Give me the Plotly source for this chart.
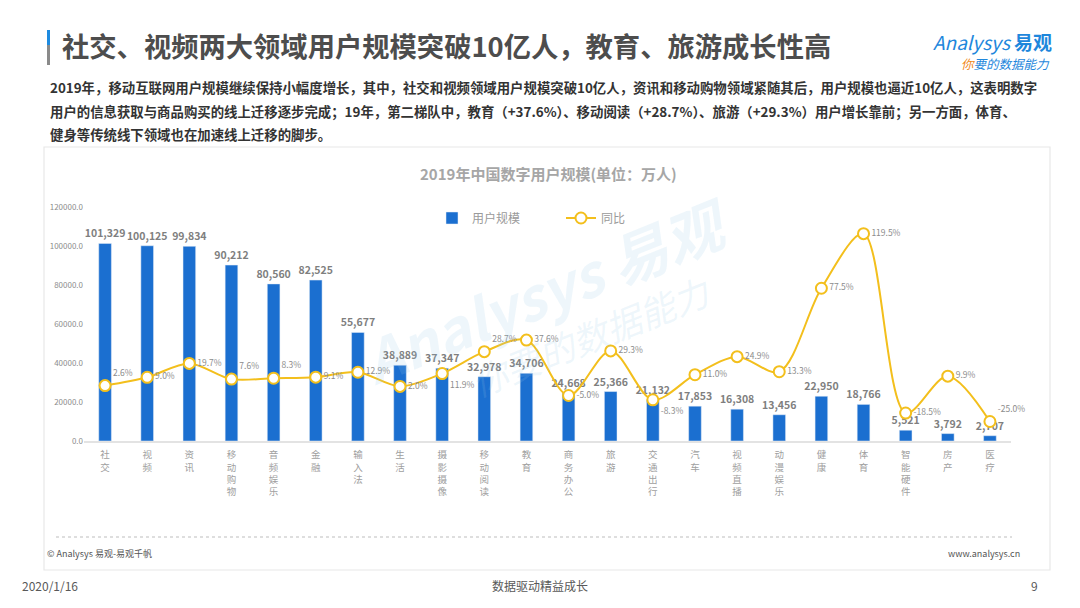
import plotly.graph_objects as go

W, H = 1080, 608

categories = ['社交', '视频', '资讯', '移动购物', '音频娱乐', '金融', '输入法', '生活',
              '摄影摄像', '移动阅读', '教育', '商务办公', '旅游', '交通出行', '汽车',
              '视频直播', '动漫娱乐', '健康', '体育', '智能硬件', '房产', '医疗']
users = [101329, 100125, 99834, 90212, 80560, 82525, 55677, 38889,
         37347, 32978, 34706, 24668, 25366, 21132, 17853,
         16308, 13456, 22950, 18766, 5521, 3792, 2707]
growth = [2.6, 9.0, 19.7, 7.6, 8.3, 9.1, 12.9, 2.0,
          11.9, 28.7, 37.6, -5.0, 29.3, -8.3, 11.0,
          24.9, 13.3, 77.5, 119.5, -18.5, 9.9, -25.0]
y_ticks = [0, 20000, 40000, 60000, 80000, 100000, 120000]

FONT = 'Noto Sans CJK SC'
BLUE = '#1B6FD0'
GOLD = '#F3BF1C'


def fx(x):
    return x / W


def fy(y):
    return 1 - y / H


# positions des étiquettes du taux de croissance
label_pos = ['top right', 'middle right', 'middle right', 'top right', 'top right',
             'middle right', 'middle right', 'middle right', 'bottom right', 'top right',
             'middle right', 'middle right', 'middle right', 'bottom right', 'middle right',
             'middle right', 'middle right', 'middle right', 'middle right', 'middle right',
             'middle right', 'top right']

fig = go.Figure()

fig.add_trace(go.Bar(
    x=categories, y=users, name='用户规模',
    marker_color=BLUE, width=0.3,
    texttemplate='%{y:,}', textposition='outside', constraintext='none',
    textfont=dict(size=10.5, color='#7f7f7f', family=FONT, weight='bold'),
    cliponaxis=False,
))

fig.add_trace(go.Scatter(
    x=categories, y=growth, name='同比', yaxis='y2',
    mode='lines+markers+text',
    line=dict(color=GOLD, width=2, shape='spline', smoothing=0.9),
    marker=dict(size=11, color='white', line=dict(color=GOLD, width=2)),
    text=[f'{v:.1f}%' for v in growth], textposition=label_pos,
    textfont=dict(size=8.5, color='#8c8c8c', family=FONT),
    cliponaxis=False,
))

fig.update_layout(
    width=W, height=H,
    margin=dict(l=0, r=0, t=0, b=0, autoexpand=False),
    paper_bgcolor='white', plot_bgcolor='rgba(0,0,0,0)',
    font=dict(family=FONT),
    xaxis=dict(
        domain=[fx(84), fx(1011)],
        range=[-0.5, len(categories) - 0.5], automargin=False,
        tickvals=categories,
        ticktext=['<br>'.join(c) for c in categories],
        tickfont=dict(size=9.5, color='#a0a0a0', family=FONT),
        ticklabelstandoff=4,
        showline=True, linecolor='#e3e3e3', linewidth=1.5,
        ticks='', showgrid=False,
    ),
    yaxis=dict(
        domain=[fy(441), fy(207)], automargin=False,
        range=[0, 120000], tickvals=y_ticks, tickformat='.1f',
        tickfont=dict(size=8, color='#8c8c8c', family=FONT),
        showgrid=False, zeroline=False, ticks='',
    ),
    yaxis2=dict(
        overlaying='y', side='right', range=[-40, 140], automargin=False,
        visible=False, showgrid=False, zeroline=False,
    ),
    legend=dict(
        orientation='h', x=fx(432), y=fy(218), xanchor='left', yanchor='middle',
        font=dict(size=12, color='#9a9a9a', family=FONT),
        entrywidth=84, bgcolor='rgba(0,0,0,0)',
    ),
)

# cadre du graphique et ligne pointillée du bas
fig.add_shape(type='rect', xref='paper', yref='paper',
              x0=fx(44), x1=fx(1050), y0=fy(570), y1=fy(147),
              line=dict(color='#e8e8e8', width=1.2), layer='below')
fig.add_shape(type='line', xref='paper', yref='paper',
              x0=fx(56), x1=fx(1012), y0=fy(537), y1=fy(537),
              line=dict(color='#bdbdbd', width=1, dash='dot'))

# barre d'accent à gauche du titre
fig.add_shape(type='rect', xref='paper', yref='paper',
              x0=fx(47), x1=fx(50), y0=fy(45), y1=fy(30),
              line_width=0, fillcolor='#1E8BE0')
fig.add_shape(type='rect', xref='paper', yref='paper',
              x0=fx(47), x1=fx(50), y0=fy(65), y1=fy(45),
              line_width=0, fillcolor='#8a8a8a')

# filigrane
fig.add_annotation(text='<i>Analysys 易观</i>', x=fx(545), y=fy(290), xref='paper', yref='paper',
                   showarrow=False, textangle=-22,
                   font=dict(size=58, color='rgba(150,200,230,0.16)', family=FONT, weight='bold'))
fig.add_annotation(text='<i>你要的数据能力</i>', x=fx(590), y=fy(335), xref='paper', yref='paper',
                   showarrow=False, textangle=-22,
                   font=dict(size=36, color='rgba(150,200,230,0.16)', family=FONT))

texts = [
    dict(text='社交、视频两大领域用户规模突破10亿人，教育、旅游成长性高', x=60, y=45, xanchor='left',
         font=dict(size=27.3, color='#4d4d4d', family=FONT, weight='bold')),
    dict(text='2019年，移动互联网用户规模继续保持小幅度增长，其中，社交和视频领域用户规模突破10亿人，资讯和移动购物领域紧随其后，用户规模也逼近10亿人，这表明数字',
         x=48, y=87, xanchor='left', font=dict(size=13.4, color='#333333', family=FONT, weight='bold')),
    dict(text='用户的信息获取与商品购买的线上迁移逐步完成；19年，第二梯队中，教育（+37.6%）、移动阅读（+28.7%）、旅游（+29.3%）用户增长靠前；另一方面，体育、',
         x=48, y=111, xanchor='left', font=dict(size=13.4, color='#333333', family=FONT, weight='bold')),
    dict(text='健身等传统线下领域也在加速线上迁移的脚步。',
         x=48, y=134, xanchor='left', font=dict(size=13.4, color='#333333', family=FONT, weight='bold')),
    dict(text='2019年中国数字用户规模(单位：万人)', x=548, y=174, xanchor='center',
         font=dict(size=15, color='#a6a6a6', family=FONT, weight='bold')),
    dict(text='© Analysys 易观-易观千帆', x=45, y=553, xanchor='left',
         font=dict(size=9, color='#555555', family=FONT)),
    dict(text='www.analysys.cn', x=1022, y=553, xanchor='right',
         font=dict(size=9, color='#555555', family=FONT)),
    dict(text='2020/1/16', x=20, y=585, xanchor='left',
         font=dict(size=12, color='#595959', family=FONT)),
    dict(text='数据驱动精益成长', x=540, y=585, xanchor='center',
         font=dict(size=12, color='#595959', family=FONT)),
    dict(text='9', x=1040, y=585, xanchor='right',
         font=dict(size=12, color='#595959', family=FONT)),
    dict(text='<i>Analysys</i> <b>易观</b>', x=1054, y=41, xanchor='right',
         font=dict(size=19, color='#1E87DC', family=FONT)),
    dict(text='<i><span style="color:#F08A1C">你</span>要的数据能力</i>', x=1052, y=63, xanchor='right',
         font=dict(size=12.5, color='#1E87DC', family=FONT)),
]
for t in texts:
    fig.add_annotation(text=t['text'], x=fx(t['x']), y=fy(t['y']), xref='paper', yref='paper',
                       xanchor=t['xanchor'], yanchor='middle', showarrow=False, font=t['font'])

# la page par défaut ajoute une marge de 8 px autour de la figure
fig.write_html('out.html', config={'displayModeBar': False},
               post_script="document.body.style.margin='0';document.body.style.overflow='hidden';")
